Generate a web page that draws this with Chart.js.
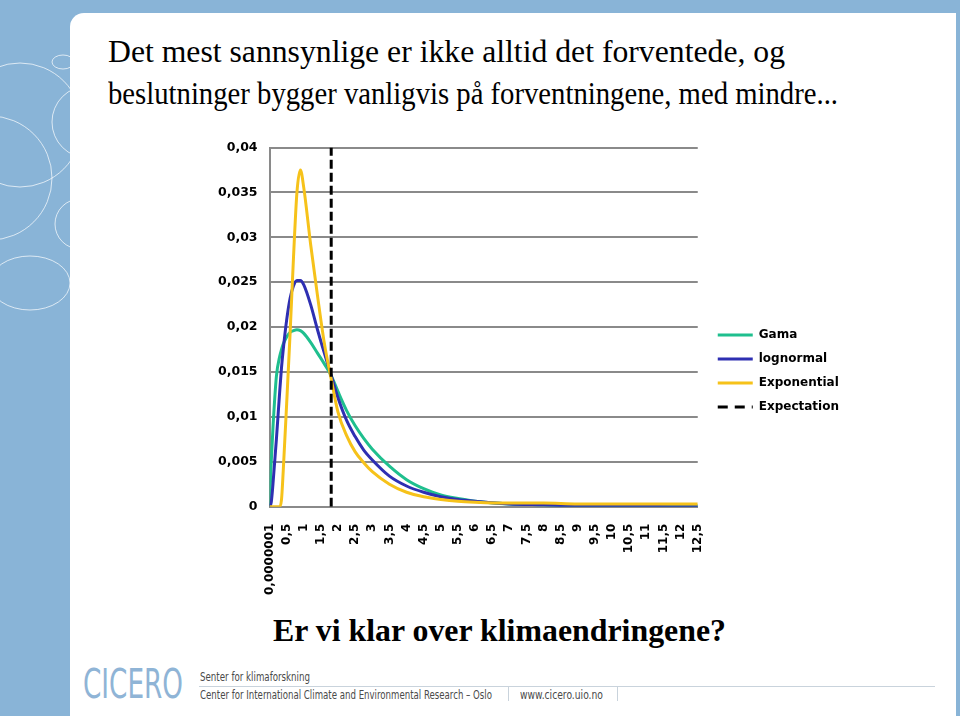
<!DOCTYPE html>
<html>
<head>
<meta charset="utf-8">
<script src="https://cdn.jsdelivr.net/npm/chart.js@4/dist/chart.umd.min.js"></script>
<style>
  html, body { margin: 0; padding: 0; }
  body { width: 960px; height: 716px; position: relative; overflow: hidden; background: #89b4d7; }
  #circles { position: absolute; left: 0; top: 0; }
  #panel { position: absolute; left: 70px; top: 13px; width: 886px; height: 703px; background: #fff; border-top-left-radius: 14px; }
  .serif { position: absolute; font-family: 'Liberation Serif', 'Times New Roman', serif; font-size: 32px; line-height: 36px; color: #000; white-space: nowrap; transform-origin: left top; }
  #wrap { position: absolute; left: 198px; top: 128px; width: 647px; height: 476px; }
  #logo { position: absolute; left: 83px; top: 660px; font-family: 'DejaVu Sans Condensed', 'DejaVu Sans', sans-serif; font-size: 41px; line-height: 48px; color: #8fb4d6; white-space: nowrap; transform-origin: left top; }
  .foot { position: absolute; font-family: 'DejaVu Sans Condensed', 'DejaVu Sans', sans-serif; font-size: 12px; line-height: 14px; color: #4a4a4a; white-space: nowrap; transform-origin: left top; }
  #rule { position: absolute; left: 199px; top: 686px; width: 736px; height: 1px; background: #c9d3dc; }
  .sep { position: absolute; top: 687px; width: 1px; height: 14px; background: #c9d3dc; }
</style>
</head>
<body>
<svg id="circles" width="80" height="716">
  <g fill="none" stroke="#ffffff" stroke-opacity="0.7" stroke-width="1">
    <ellipse cx="63" cy="62" rx="11" ry="7"/>
    <circle cx="20" cy="125" r="62"/>
    <circle cx="-10" cy="178" r="62"/>
    <circle cx="88" cy="122" r="36"/>
    <circle cx="80" cy="224" r="25"/>
    <ellipse cx="30" cy="283" rx="40" ry="27"/>
  </g>
</svg>
<div id="panel"></div>
<div id="title1" class="serif" style="left:108px; top:33px;">Det mest sannsynlige er ikke alltid det forventede, og</div>
<div id="title2" class="serif" style="left:108px; top:75px;">beslutninger bygger vanligvis på forventningene, med mindre...</div>
<div id="wrap"><canvas id="chart"></canvas></div>
<div id="question" class="serif" style="left:273px; top:612px; font-weight:bold;">Er vi klar over klimaendringene?</div>
<div id="logo">CICERO</div>
<div id="foot1" class="foot" style="left:200px; top:670px;">Senter for klimaforskning</div>
<div id="rule"></div>
<div id="foot2" class="foot" style="left:200px; top:688px;">Center for International Climate and Environmental Research – Oslo</div>
<div class="sep" style="left:508px;"></div>
<div id="foot3" class="foot" style="left:520px; top:688px;">www.cicero.uio.no</div>
<div class="sep" style="left:617px;"></div>
<script>
// values (x in same units as the category labels)
const xValues = [0, 0.05, 0.1, 0.2, 0.3, 0.35, 0.4, 0.5, 0.6, 0.7, 0.8, 0.9, 1, 1.2, 1.4, 1.6, 1.8, 2, 2.25, 2.5, 2.75, 3, 3.5, 4, 4.5, 5, 5.5, 6, 7, 8, 9, 10, 11, 12, 12.5];
const gamaValues = [0, 0.005, 0.0088, 0.0145, 0.0168, 0.0175, 0.0181, 0.0189, 0.0194, 0.0196, 0.0197, 0.0196, 0.0193, 0.0183, 0.0171, 0.0159, 0.0146, 0.0128, 0.0107, 0.009, 0.0076, 0.0064, 0.0045, 0.003, 0.002, 0.0013, 0.0009, 0.0006, 0.0003, 0.0002, 0.0001, 0.0001, 0.0001, 0.0001, 0.0001];
const lognormalValues = [0, 0.0005, 0.0025, 0.0075, 0.013, 0.0155, 0.0175, 0.0208, 0.0232, 0.0246, 0.0252, 0.0252, 0.0247, 0.0225, 0.0197, 0.0171, 0.0146, 0.0121, 0.0096, 0.0078, 0.0063, 0.0052, 0.0034, 0.0023, 0.0016, 0.0011, 0.0008, 0.0006, 0.0003, 0.0002, 0.0001, 0.0001, 0.00005, 0, 0];
const exponentialValues = [0, 0, 0, 0, 0, 0.0008, 0.004, 0.0115, 0.0193, 0.0278, 0.035, 0.0375, 0.0355, 0.0292, 0.0235, 0.0182, 0.0142, 0.0105, 0.0079, 0.0061, 0.0049, 0.0039, 0.0025, 0.0016, 0.0011, 0.0008, 0.0006, 0.0005, 0.0004, 0.0004, 0.0003, 0.0003, 0.0003, 0.0003, 0.0003];
const expectationX = 1.8;

const xTickLabels = ['0,0000001', '0,5', '1', '1,5', '2', '2,5', '3', '3,5', '4', '4,5', '5', '5,5', '6', '6,5', '7', '7,5', '8', '8,5', '9', '9,5', '10', '10,5', '11', '11,5', '12', '12,5'];
const yTickLabels = ['0', '0,005', '0,01', '0,015', '0,02', '0,025', '0,03', '0,035', '0,04'];

const seriesNames = ['Gama', 'lognormal', 'Exponential', 'Expectation'];
const seriesColors = ['#1fbf8e', '#2e2fb2', '#f6c21a', '#000000'];

// squeeze a text line to the width it has on the slide
function fitWidth(id, w) {
  let el = document.getElementById(id);
  let r = el.getBoundingClientRect().width;
  el.style.transform = 'scaleX(' + (w / r) + ')';
}
fitWidth('title1', 677);
fitWidth('title2', 730);
fitWidth('question', 453);
fitWidth('logo', 100);
fitWidth('foot1', 110);
fitWidth('foot2', 292);
fitWidth('foot3', 83);

function points(ys) {
  return xValues.map((x, i) => ({x: x, y: ys[i]}));
}

function curve(i, ys, order) {
  return {
    label: seriesNames[i],
    data: points(ys),
    borderColor: seriesColors[i],
    borderWidth: 3,
    pointRadius: 0,
    cubicInterpolationMode: 'monotone',
    order: order
  };
}

// legend sits a bit right of / below where chart.js centres it
const legendNudge = {
  id: 'legendNudge',
  afterLayout(chart) {
    let lg = chart.legend;
    lg.left += 8; lg.right += 8;
    lg.top += 2; lg.bottom += 2;
  }
};

Chart.defaults.font.family = "'DejaVu Sans', sans-serif";

new Chart(document.getElementById('chart'), {
  type: 'line',
  data: {
    datasets: [
      curve(0, gamaValues, 3),
      curve(1, lognormalValues, 2),
      curve(2, exponentialValues, 1),
      {
        label: seriesNames[3],
        data: [{x: expectationX, y: 0}, {x: expectationX, y: 0.04}],
        borderColor: seriesColors[3],
        borderWidth: 3,
        borderDash: [9, 4],
        pointRadius: 0,
        order: 0
      }
    ]
  },
  plugins: [legendNudge],
  options: {
    responsive: true,
    maintainAspectRatio: false,
    animation: false,
    layout: {padding: {left: 8, top: 6, right: 4, bottom: 0}},
    plugins: {
      tooltip: {enabled: false},
      legend: {
        position: 'right',
        labels: {
          usePointStyle: true,
          pointStyleWidth: 35,
          boxHeight: 12,
          padding: 12,
          color: '#000',
          font: {size: 12, weight: 'bold'},
          generateLabels: () => seriesNames.map((name, i) => ({
            text: name,
            strokeStyle: seriesColors[i],
            fillStyle: seriesColors[i],
            lineWidth: 3,
            lineDash: i === 3 ? [10, 7] : [],
            pointStyle: 'line',
            datasetIndex: i
          }))
        }
      }
    },
    scales: {
      x: {
        type: 'linear',
        min: 0,
        max: 12.5,
        grid: {display: false},
        border: {display: true, color: '#8a8a8a', width: 2},
        ticks: {
          stepSize: 0.5,
          autoSkip: false,
          minRotation: 90,
          maxRotation: 90,
          padding: 9,
          color: '#000',
          font: {size: 12, weight: 'bold'},
          callback: (v, i) => xTickLabels[i]
        }
      },
      y: {
        min: 0,
        max: 0.04,
        grid: {color: '#8a8a8a', lineWidth: 2, drawTicks: false},
        border: {display: true, color: '#8a8a8a', width: 2},
        ticks: {
          stepSize: 0.005,
          padding: 12,
          color: '#000',
          font: {size: 12.5, weight: 'bold'},
          callback: (v, i) => yTickLabels[i]
        }
      }
    }
  }
});
</script>
</body>
</html>
